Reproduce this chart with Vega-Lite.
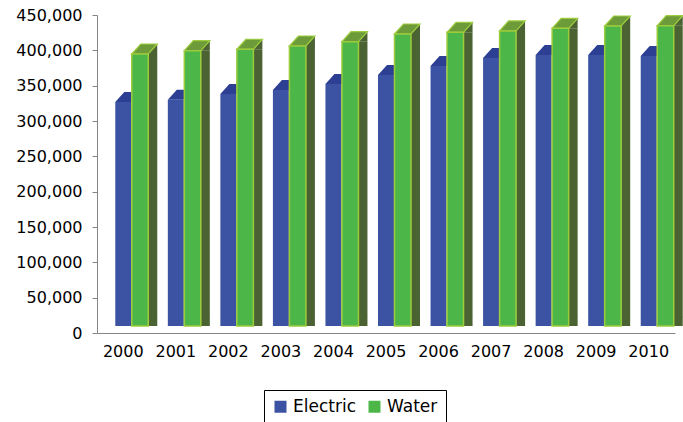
{
  "$schema": "https://vega.github.io/schema/vega-lite/v6.json",
  "width": 578,
  "height": 318,
  "autosize": {"type": "none"},
  "padding": {"left": 97, "top": 15, "right": 8, "bottom": 89},
  "background": "white",
  "config": {
    "view": {"stroke": null},
    "font": "DejaVu Sans",
    "axis": {"labelFont": "DejaVu Sans", "labelColor": "#000000", "labelFontSize": 16, "domainColor": "#868686", "tickColor": "#868686", "domainWidth": 1, "grid": false, "title": null},
    "legend": {"labelFont": "DejaVu Sans", "labelColor": "#000000"}
  },
  "data": {
    "values": [
      {"year": "2000", "utility": "Electric", "customers": 317000},
      {"year": "2001", "utility": "Electric", "customers": 320000},
      {"year": "2002", "utility": "Electric", "customers": 328300},
      {"year": "2003", "utility": "Electric", "customers": 334000},
      {"year": "2004", "utility": "Electric", "customers": 342500},
      {"year": "2005", "utility": "Electric", "customers": 355200},
      {"year": "2006", "utility": "Electric", "customers": 367900},
      {"year": "2007", "utility": "Electric", "customers": 379200},
      {"year": "2008", "utility": "Electric", "customers": 383500},
      {"year": "2009", "utility": "Electric", "customers": 383500},
      {"year": "2010", "utility": "Electric", "customers": 382100},
      {"year": "2000", "utility": "Water", "customers": 384900},
      {"year": "2001", "utility": "Water", "customers": 389600},
      {"year": "2002", "utility": "Water", "customers": 391600},
      {"year": "2003", "utility": "Water", "customers": 396200},
      {"year": "2004", "utility": "Water", "customers": 402300},
      {"year": "2005", "utility": "Water", "customers": 413200},
      {"year": "2006", "utility": "Water", "customers": 415600},
      {"year": "2007", "utility": "Water", "customers": 417500},
      {"year": "2008", "utility": "Water", "customers": 421300},
      {"year": "2009", "utility": "Water", "customers": 424500},
      {"year": "2010", "utility": "Water", "customers": 425000}
    ]
  },
  "encoding": {
    "x": {
      "field": "year",
      "type": "ordinal",
      "scale": {"paddingInner": 0, "paddingOuter": 0},
      "axis": {"labelAngle": 0, "ticks": false, "labelPadding": 10}
    },
    "y": {
      "field": "customers",
      "type": "quantitative",
      "scale": {"domain": [0, 450000], "nice": false},
      "axis": {"values": [0, 50000, 100000, 150000, 200000, 250000, 300000, 350000, 400000, 450000], "format": ",.0f", "tickSize": 5, "labelPadding": 10}
    }
  },
  "layer": [
    {
      "transform": [{"filter": "datum.utility === 'Electric'"}],
      "mark": {"type": "point", "shape": "M-8,0L8,0L17,-10L1,-10Z", "size": 4, "filled": true, "opacity": 1, "color": "#2d3f93", "strokeWidth": 0, "yOffset": -7}
    },
    {
      "transform": [{"filter": "datum.utility === 'Electric'"}],
      "mark": {"type": "bar", "width": 16, "xOffset": 0, "yOffset": -7, "y2Offset": -7},
      "encoding": {
        "color": {
          "field": "utility",
          "type": "nominal",
          "scale": {"domain": ["Electric", "Water"], "range": ["#3c53a4", "#4cb748"]},
          "legend": {
            "title": null, "orient": "none", "legendX": 167, "legendY": 375, "direction": "horizontal",
            "strokeColor": "#000000", "fillColor": "#ffffff", "padding": 8, "symbolType": "square", "symbolSize": 144,
            "labelFontSize": 17, "columnPadding": 10, "labelOffset": 4, "symbolStrokeWidth": 0
          }
        }
      }
    },
    {
      "transform": [{"filter": "datum.utility === 'Water'"}],
      "mark": {"type": "bar", "width": 9, "xOffset": 29.5, "yOffset": -7, "y2Offset": -17, "color": "#4b6332"}
    },
    {
      "transform": [{"filter": "datum.utility === 'Water'"}],
      "mark": {"type": "point", "shape": "M25,0L34,-10L34,0Z", "size": 4, "filled": true, "opacity": 1, "color": "#4b6332", "strokeWidth": 0, "yOffset": -7}
    },
    {
      "transform": [{"filter": "datum.utility === 'Water'"}],
      "mark": {"type": "point", "shape": "M25,-10L34,-10L25,0Z", "size": 4, "filled": true, "opacity": 1, "color": "#4b6332", "strokeWidth": 0, "yOffset": -7},
      "encoding": {"y": {"datum": 0}}
    },
    {
      "transform": [{"filter": "datum.utility === 'Water'"}],
      "mark": {"type": "point", "shape": "M8.5,0L25,0L34,-10L17.5,-10Z", "size": 4, "filled": true, "opacity": 1, "fill": "#6e9b3a", "stroke": "#9ccc3c", "strokeWidth": 1.2, "yOffset": -7}
    },
    {
      "transform": [{"filter": "datum.utility === 'Water'"}],
      "mark": {"type": "bar", "width": 16.5, "xOffset": 16.75, "yOffset": -7, "y2Offset": -7, "stroke": "#9ccc3c", "strokeWidth": 1.5},
      "encoding": {
        "color": {"field": "utility", "type": "nominal"}
      }
    }
  ]
}
